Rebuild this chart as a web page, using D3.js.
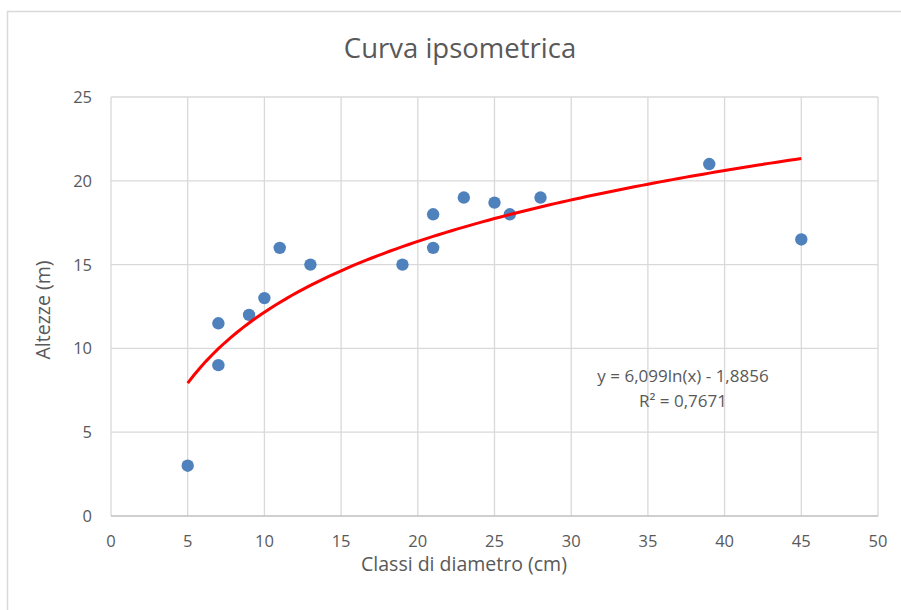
<!DOCTYPE html>
<html>
<head>
<meta charset="utf-8">
<script src="https://cdn.jsdelivr.net/npm/d3@7"></script>
<style>
  html, body { margin: 0; padding: 0; background: #fff; }
  text { font-family: "Open Sans", "Liberation Sans", sans-serif; fill: #595959; }
</style>
</head>
<body>
<svg id="chart"></svg>
<script>
// Dati
const diametri = [5, 7, 7, 9, 10, 11, 13, 19, 21, 21, 23, 25, 26, 28, 39, 45];
const altezze  = [3, 11.5, 9, 12, 13, 16, 15, 15, 18, 16, 19, 18.7, 18, 19, 21, 16.5];
const xTicks = [0, 5, 10, 15, 20, 25, 30, 35, 40, 45, 50];
const yTicks = [0, 5, 10, 15, 20, 25];
// Linea di tendenza logaritmica (dall'etichetta del grafico)
const trendA = 6.099;
const trendB = -1.8856;
const trendLabel = ["y = 6,099ln(x) - 1,8856", "R² = 0,7671"];

function drawChart() {
    const width = 901;
    const height = 610;
    const margin = { top: 97, right: 23, bottom: 94, left: 111 };

    const svg = d3.select('#chart')
        .attr('width', width)
        .attr('height', height);

    // bordo esterno
    svg.append('path')
        .attr('d', 'M7.5,' + height + 'V11.5H' + width)
        .attr('fill', 'none')
        .attr('stroke', '#d9d9d9')
        .attr('stroke-width', 1.5);

    const x = d3.scaleLinear()
        .domain([0, 50])
        .range([margin.left, width - margin.right]);

    const y = d3.scaleLinear()
        .domain([0, 25])
        .range([height - margin.bottom, margin.top]);

    // griglia
    svg.append('g')
        .selectAll('line')
        .data(xTicks)
        .enter()
        .append('line')
        .attr('x1', d => x(d))
        .attr('x2', d => x(d))
        .attr('y1', y(0))
        .attr('y2', y(25))
        .attr('stroke', '#d9d9d9')
        .attr('stroke-width', 1.3);

    svg.append('g')
        .selectAll('line')
        .data(yTicks)
        .enter()
        .append('line')
        .attr('x1', x(0))
        .attr('x2', x(50))
        .attr('y1', d => y(d))
        .attr('y2', d => y(d))
        .attr('stroke', d => d === 0 ? '#bfbfbf' : '#d9d9d9')
        .attr('stroke-width', 1.3);

    // etichette assi
    svg.append('g')
        .selectAll('text')
        .data(xTicks)
        .enter()
        .append('text')
        .attr('x', d => x(d))
        .attr('y', y(0) + 31)
        .attr('text-anchor', 'middle')
        .style('font-size', '16.5px')
        .text(d => d);

    svg.append('g')
        .selectAll('text')
        .data(yTicks)
        .enter()
        .append('text')
        .attr('x', x(0) - 19)
        .attr('y', d => y(d) + 6)
        .attr('text-anchor', 'end')
        .style('font-size', '16.5px')
        .text(d => d);

    // titoli
    svg.append('text')
        .attr('x', 460)
        .attr('y', 58)
        .attr('text-anchor', 'middle')
        .style('font-size', '27.5px')
        .text('Curva ipsometrica');

    svg.append('text')
        .attr('x', 464)
        .attr('y', 571)
        .attr('text-anchor', 'middle')
        .style('font-size', '19.5px')
        .text('Classi di diametro (cm)');

    svg.append('text')
        .attr('transform', 'translate(50,310) rotate(-90)')
        .attr('text-anchor', 'middle')
        .style('font-size', '19.5px')
        .text('Altezze (m)');

    // punti
    const punti = diametri.map((d, i) => ({ x: d, y: altezze[i] }));
    svg.append('g')
        .selectAll('circle')
        .data(punti)
        .enter()
        .append('circle')
        .attr('cx', d => x(d.x))
        .attr('cy', d => y(d.y))
        .attr('r', 6.2)
        .style('fill', '#4f81bd');

    // linea di tendenza
    const xMin = d3.min(diametri), xMax = d3.max(diametri);
    const trend = d3.range(0, 101).map(i => {
        const xv = xMin + (xMax - xMin) * i / 100;
        return { x: xv, y: trendA * Math.log(xv) + trendB };
    });
    svg.append('path')
        .datum(trend)
        .attr('fill', 'none')
        .attr('stroke', '#ff0000')
        .attr('stroke-width', 3)
        .attr('d', d3.line().x(d => x(d.x)).y(d => y(d.y)));

    svg.append('g')
        .selectAll('text')
        .data(trendLabel)
        .enter()
        .append('text')
        .attr('x', 683)
        .attr('y', (d, i) => 382 + i * 25)
        .attr('text-anchor', 'middle')
        .style('font-size', '17px')
        .text(d => d);
}

drawChart();
</script>
</body>
</html>
